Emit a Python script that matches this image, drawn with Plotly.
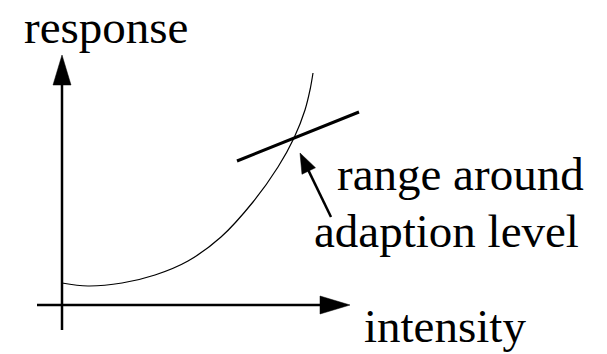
"""Sketch of a response curve with the range around the adaption level.

Drawn with plotly shapes and scatter traces on hidden axes.
"""

import plotly.graph_objects as go

# Curve of response against intensity (origin at the axis crossing)
intensity = [0, 26, 60, 93, 126, 159, 191, 216, 232, 243, 248, 251]
response = [22, 19, 22, 30, 44, 68, 103, 138, 167, 195, 215, 232]

# Line showing the range around the adaption level
range_x = [175, 297]
range_y = [144, 193]

# Axis extents
x_axis = [-25, 288]
y_axis = [-25, 250]

# Arrow pointing at the adaption level (tail, tip)
pointer_x = [269, 238]
pointer_y = [88, 152]

# Labels
labels = ['response', 'range around', 'adaption level', 'intensity']
label_x = [-40, 273, 250, 300]
label_y = [278, 131, 74, -21]

FONT = 'Liberation Serif'


def add_arrow(fig: go.Figure, xs: list, ys: list, width: float,
              head_len: float, head_wid: float) -> go.Figure:
    """Draws a line from (xs[0], ys[0]) to (xs[1], ys[1]) with a filled head.

    Args:
        fig (go.Figure): The plotly figure.
        xs (list): x of tail and tip.
        ys (list): y of tail and tip.
        width (float): Line width.
        head_len (float): Length of the arrow head.
        head_wid (float): Width of the arrow head.

    Returns:
        go.Figure: The plotly figure with the arrow.
    """

    dx = xs[1] - xs[0]
    dy = ys[1] - ys[0]
    norm = (dx ** 2 + dy ** 2) ** 0.5
    ux, uy = dx / norm, dy / norm
    bx, by = xs[1] - ux * head_len, ys[1] - uy * head_len

    # Shaft stops at the base of the head
    fig.add_trace(go.Scatter(
        x=[xs[0], bx + ux], y=[ys[0], by + uy],
        mode='lines',
        line=dict(color='black', width=width),
        hoverinfo='none',
        showlegend=False
    ))

    # Filled triangle for the head
    px, py = -uy * head_wid / 2, ux * head_wid / 2
    fig.add_trace(go.Scatter(
        x=[xs[1], bx + px, bx - px, xs[1]],
        y=[ys[1], by + py, by - py, ys[1]],
        mode='lines',
        fill='toself',
        fillcolor='black',
        line=dict(color='black', width=0.5),
        hoverinfo='none',
        showlegend=False
    ))

    return fig


def make_plot() -> go.Figure:
    """Returns the full sketch."""

    fig = go.Figure()

    # Axes with arrows
    fig = add_arrow(fig, [0, 0], y_axis, 2.5, 30, 18)
    fig = add_arrow(fig, x_axis, [0, 0], 2.5, 30, 18)

    # Response curve
    fig.add_trace(go.Scatter(
        x=intensity, y=response,
        mode='lines',
        line=dict(color='black', width=1.2, shape='spline', smoothing=1.0),
        hoverinfo='none',
        showlegend=False
    ))

    # Range around adaption level
    fig.add_trace(go.Scatter(
        x=range_x, y=range_y,
        mode='lines',
        line=dict(color='black', width=3),
        hoverinfo='none',
        showlegend=False
    ))

    # Pointer
    fig = add_arrow(fig, pointer_x, pointer_y, 2.5, 20, 15)

    # Text labels
    for text, x, y in zip(labels, label_x, label_y):
        fig.add_annotation(
            x=x, y=y, text=text,
            xref='x', yref='y',
            xanchor='left', yanchor='middle',
            showarrow=False,
            font=dict(family=FONT, size=47, color='black')
        )

    fig.update_xaxes(range=[-62, 545], visible=False, showgrid=False)
    fig.update_yaxes(range=[-49, 305], visible=False, showgrid=False)
    fig.update_layout(
        width=607, height=354,
        margin=dict(l=0, r=0, t=0, b=0),
        plot_bgcolor='white',
        paper_bgcolor='white'
    )

    return fig


fig = make_plot()
# Drop the page margin so the figure sits at the window's corner
fig.write_html('out.html', config={'staticPlot': True},
               post_script="document.body.style.margin='0';")
